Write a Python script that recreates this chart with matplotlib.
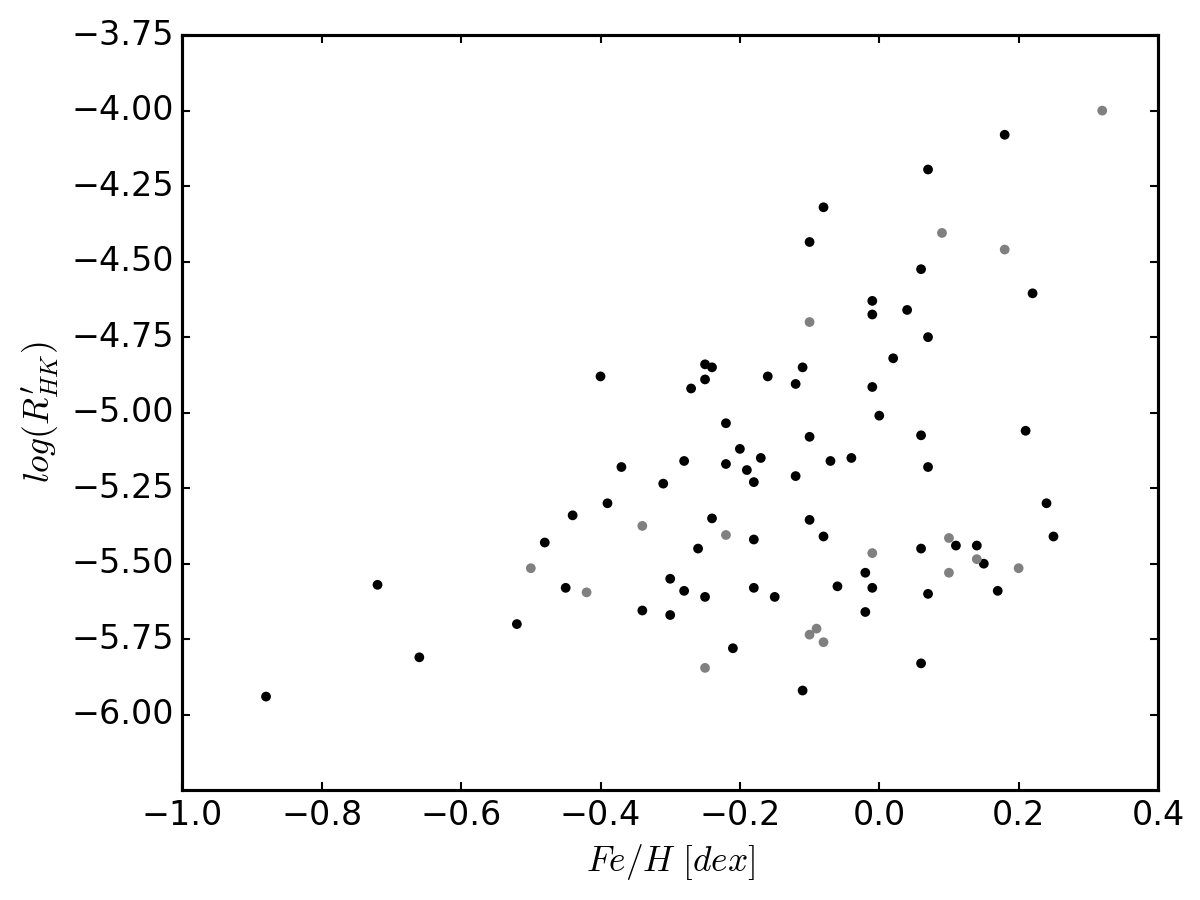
import matplotlib
matplotlib.use("Agg")
import matplotlib.pyplot as plt

plt.style.use('classic')
plt.rcParams['mathtext.fontset'] = 'cm'

# black points: Fe/H and log R'HK
feh_black = [-0.88, -0.72, -0.66, -0.52, -0.48, -0.45, -0.44, -0.40, -0.39, -0.37,
             -0.34, -0.31, -0.30, -0.30, -0.28, -0.28, -0.27, -0.26, -0.25, -0.25,
             -0.24, -0.25, -0.24, -0.22, -0.22, -0.21, -0.20, -0.19, -0.18, -0.18,
             -0.18, -0.17, -0.16, -0.15, -0.12, -0.12, -0.11, -0.11, -0.10, -0.10,
             -0.10, -0.08, -0.08, -0.07, -0.06, -0.04, -0.02, -0.02, -0.01, -0.01,
             -0.01, -0.01, 0.00, 0.02, 0.04, 0.06, 0.06, 0.06, 0.06, 0.07,
             0.07, 0.07, 0.07, 0.11, 0.14, 0.15, 0.17, 0.18, 0.21, 0.22,
             0.24, 0.25]
rhk_black = [-5.94, -5.57, -5.81, -5.70, -5.43, -5.58, -5.34, -4.88, -5.30, -5.18,
             -5.655, -5.235, -5.55, -5.67, -5.16, -5.59, -4.92, -5.45, -4.89, -4.84,
             -4.85, -5.61, -5.35, -5.035, -5.17, -5.78, -5.12, -5.19, -5.23, -5.42,
             -5.58, -5.15, -4.88, -5.61, -4.905, -5.21, -4.85, -5.92, -4.435, -5.08,
             -5.355, -4.32, -5.41, -5.16, -5.575, -5.15, -5.53, -5.66, -4.63, -4.675,
             -4.915, -5.58, -5.01, -4.82, -4.66, -4.525, -5.075, -5.45, -5.83, -4.195,
             -4.75, -5.18, -5.60, -5.44, -5.44, -5.50, -5.59, -4.08, -5.06, -4.605,
             -5.30, -5.41]

# gray points
feh_gray = [-0.50, -0.42, -0.34, -0.25, -0.22, -0.10, -0.10, -0.09, -0.08, -0.01,
            0.09, 0.10, 0.10, 0.14, 0.18, 0.20, 0.32]
rhk_gray = [-5.515, -5.595, -5.375, -5.845, -5.405, -4.70, -5.735, -5.715, -5.76, -5.465,
            -4.405, -5.415, -5.53, -5.485, -4.46, -5.515, -4.00]

yticks = [-6.00, -5.75, -5.50, -5.25, -5.00, -4.75, -4.50, -4.25, -4.00, -3.75]

fig, ax = plt.subplots(figsize=(8, 6), dpi=150)
fig.patch.set_facecolor('white')

ax.scatter(feh_black, rhk_black, s=22, c='k', edgecolors='none')
ax.scatter(feh_gray, rhk_gray, s=22, c='0.5', edgecolors='none')

ax.set_xlim(-1.0, 0.4)
ax.set_ylim(-6.25, -3.75)
ax.set_yticks(yticks)
ax.set_yticklabels([('%.2f' % v).replace('-', '\u2212') for v in yticks])

for sp in ax.spines.values():
    sp.set_linewidth(1.5)
ax.tick_params(labelsize=16, width=1, length=4)

ax.set_xlabel(r"$Fe/H\ [dex]$", fontsize=17)
ax.set_ylabel(r"$log(R^{\prime}_{HK})$", fontsize=17)

fig.subplots_adjust(left=0.152, right=0.965, top=0.961, bottom=0.122)
fig.savefig('out.png', dpi=150, facecolor='white')
